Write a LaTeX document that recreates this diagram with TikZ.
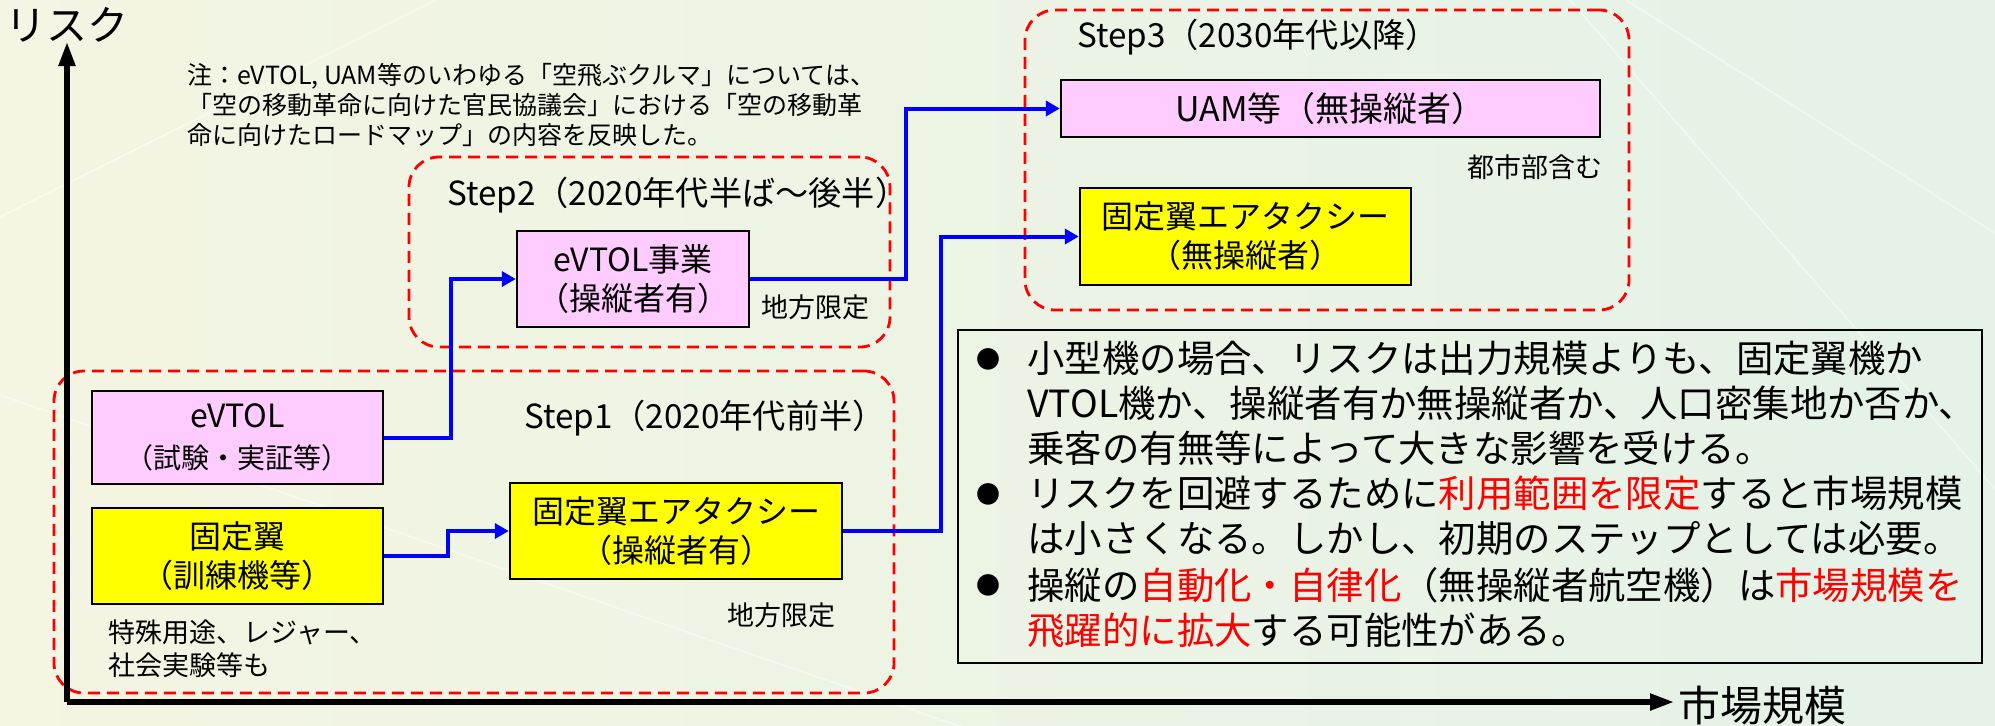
\documentclass[tikz,border=0pt]{standalone}
\usepackage{fontspec}
\setmainfont{Noto Sans CJK JP}
\usetikzlibrary{arrows.meta}
\definecolor{pinkfill}{RGB}{255,204,255}
\definecolor{yellowfill}{RGB}{255,255,0}
\definecolor{connblue}{RGB}{0,0,255}
\definecolor{stepred}{RGB}{255,0,0}
\definecolor{bgleft}{RGB}{244,245,226}
\definecolor{bgright}{RGB}{228,242,231}
\tikzset{
  box/.style={draw=black, line width=1.2pt, inner sep=0pt, align=center, font=\fontsize{16pt}{19.5pt}\selectfont},
  pinkbox/.style={box, fill=pinkfill},
  yellowbox/.style={box, fill=yellowfill},
  conn/.style={draw=connblue, line width=2pt, -{Triangle[length=7pt,width=7.5pt]}},
  axisline/.style={line width=2.6pt, -{Triangle[length=12pt,width=8pt]}},
  stepframe/.style={draw=stepred, line width=1.4pt, dash pattern=on 6pt off 3.5pt, rounded corners=15pt, inner sep=0pt},
  steplabel/.style={anchor=west, inner sep=0pt, font=\fontsize{16.6pt}{19pt}\selectfont},
  smalltext/.style={inner sep=0pt, align=left, font=\fontsize{13.5pt}{16.5pt}\selectfont},
  notetext/.style={inner sep=0pt, align=left, anchor=west, font=\fontsize{12.5pt}{15pt}\selectfont},
  bullettext/.style={anchor=west, inner sep=0pt, font=\fontsize{18.7pt}{22pt}\selectfont},
  bulletmark/.style={inner sep=0pt, font=\fontsize{12pt}{14pt}\selectfont},
  axislabel/.style={inner sep=0pt, font=\fontsize{20.5pt}{24pt}\selectfont},
  faint/.style={draw=white, opacity=0.45, line width=1pt},
}
\begin{document}
\begin{tikzpicture}[x=0.5pt,y=-0.5pt]
\useasboundingbox (0,0) rectangle (1995,725);
\shade[left color=bgleft, right color=bgright] (0,0) rectangle (1995,725);
% faint background streaks
\draw[faint] (0,217) -- (436,0);
\draw[faint] (0,395) -- (1000,740);
\draw[faint] (1570,0) -- (1995,489);
\draw[faint] (1626,0) -- (1995,233);

% step frames
\node[stepframe, minimum width=240.5pt, minimum height=95pt] (step2) at (649.5,252) {};
\node[stepframe, minimum width=302pt, minimum height=150pt] (step3) at (1327,160) {};
\node[stepframe, minimum width=420pt, minimum height=161pt] (step1) at (474,532) {};

% axes
\coordinate (origin) at (67,702);
\coordinate (ytop) at (67,42);
\coordinate (xend) at (1674,702);
\draw[axisline] (origin) -- (ytop);
\draw[axisline] (origin) -- (xend);
\node[axislabel] (risk) at (67,25) {リスク};
\node[axislabel, anchor=west, font=\fontsize{21pt}{24pt}\selectfont] (market) at (1678,705) {市場規模};

% note
\node[notetext] (note) at (187,105) {注：eVTOL, UAM等のいわゆる「空飛ぶクルマ」については、\\「空の移動革命に向けた官民協議会」における「空の移動革\\命に向けたロードマップ」の内容を反映した。};

% labels
\node[steplabel] (s2label) at (447,195) {Step2（2020年代半ば～後半）};
\node[steplabel] (s3label) at (1077,37) {Step3（2030年代以降）};
\node[steplabel] (s1label) at (524,418) {Step1（2020年代前半）};
\node[smalltext, anchor=west] (local2) at (761,307) {地方限定};
\node[smalltext, anchor=east] (urban) at (1603,167) {都市部含む};
\node[smalltext, anchor=west] (local1) at (727,615) {地方限定};
\node[smalltext, anchor=west] (special) at (108,648.5) {特殊用途、レジャー、\\社会実験等も};

% boxes
\node[pinkbox, minimum width=116pt, minimum height=48pt] (evtolbiz) at (633,279) {eVTOL事業\\（操縦者有）};
\node[pinkbox, minimum width=269.5pt, minimum height=28.5pt, font=\fontsize{17pt}{20pt}\selectfont] (uam) at (1330.5,108.5) {UAM等（無操縦者）};
\node[yellowbox, minimum width=165.5pt, minimum height=48.5pt] (fwun) at (1245.5,236.5) {固定翼エアタクシー\\（無操縦者）};
\node[pinkbox, minimum width=145.5pt, minimum height=46.5pt] (evtol) at (237.5,437.5) {eVTOL\\[1pt]{\fontsize{14pt}{17pt}\selectfont （試験・実証等）}};
\node[yellowbox, minimum width=145.5pt, minimum height=48pt] (fw) at (237.5,556) {固定翼\\（訓練機等）};
\node[yellowbox, minimum width=166pt, minimum height=48pt] (fwtaxi) at (676,531) {固定翼エアタクシー\\（操縦者有）};

% connectors
\draw[conn] (evtol.east) -- ++(67,0) |- (evtolbiz.west);
\draw[conn] (fw.east) -- ++(64,0) |- (fwtaxi.west);
\draw[conn] (evtolbiz.east) -- ++(156,0) |- (uam.west);
\draw[conn] (fwtaxi.east) -- ++(98,0) |- (fwun.west);

% text box
\node[draw=black, line width=1pt, minimum width=512pt, minimum height=166.5pt, inner sep=0pt] (textbox) at (1470,496.5) {};
\node[bulletmark] (b1) at (988,359) {●};
\node[bulletmark] (b2) at (988,494) {●};
\node[bulletmark] (b3) at (988,585) {●};
\node[bullettext] (l1) at (1027,358) {小型機の場合、リスクは出力規模よりも、固定翼機か};
\node[bullettext] (l2) at (1027,403) {VTOL機か、操縦者有か無操縦者か、人口密集地か否か、};
\node[bullettext] (l3) at (1027,448) {乗客の有無等によって大きな影響を受ける。};
\node[bullettext] (l4) at (1027,493) {リスクを回避するために\textcolor{stepred}{利用範囲を限定}すると市場規模};
\node[bullettext] (l5) at (1027,538) {は小さくなる。しかし、初期のステップとしては必要。};
\node[bullettext] (l6) at (1027,585) {操縦の\textcolor{stepred}{自動化・自律化}（無操縦者航空機）は\textcolor{stepred}{市場規模を}};
\node[bullettext] (l7) at (1027,630) {\textcolor{stepred}{飛躍的に拡大}する可能性がある。};
\end{tikzpicture}
\end{document}
